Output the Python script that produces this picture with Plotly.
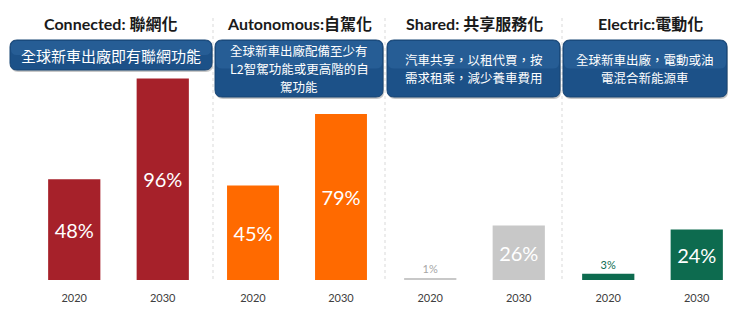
import plotly.graph_objects as go

# ---- data -------------------------------------------------------------
years = ["2020", "2030"]
themes = ["Connected: 聯網化", "Autonomous:自駕化", "Shared: 共享服務化", "Electric:電動化"]
notes = [
    ["全球新車出廠即有聯網功能"],
    ["全球新車出廠配備至少有", "L2智駕功能或更高階的自", "駕功能"],
    ["汽車共享，以租代買，按", "需求租乘，減少養車費用"],
    ["全球新車出廠，電動或油", "電混合新能源車"],
]
connected = [48, 96]
autonomous = [45, 79]
shared = [1, 26]
electric = [3, 24]
series = [connected, autonomous, shared, electric]

# ---- styling ----------------------------------------------------------
W, H = 750, 323
TOP, BOTTOM = 70, 280          # plot area in pixels
colors = ["#a6212a", "#ff6a00", "#c8c8c8", "#0d6b4f"]
small_text_colors = ["#a6212a", "#ff6a00", "#a6a6a6", "#0d6b4f"]
panels_px = [(30, 207), (209, 385), (386, 563), (564, 741)]
title_x_px = [110, 299, 474, 650]
boxes_px = [(10, 40, 212, 70), (215, 40, 383, 97), (387, 40, 560, 97), (563, 40, 727, 97)]
separators_px = [213, 385, 562]
LINE_STEP = 18.2
NOTE_SIZE = 12.5
CJK = "Noto Sans CJK TC"
LATIN = "Lato, Noto Sans CJK TC"


def px_x(x):
    return x / W


def px_y(y):
    return (BOTTOM - y) / (BOTTOM - TOP)


def rounded_path(x0, y0, x1, y1, r):
    """Rounded rectangle path in paper coordinates from pixel corners."""
    ax, bx = px_x(x0), px_x(x1)
    ay, by = px_y(y0), px_y(y1)   # ay is the top edge
    rx, ry = r / W, r / (BOTTOM - TOP)
    return (
        f"M {ax + rx},{ay} L {bx - rx},{ay} Q {bx},{ay} {bx},{ay - ry} "
        f"L {bx},{by + ry} Q {bx},{by} {bx - rx},{by} "
        f"L {ax + rx},{by} Q {ax},{by} {ax},{by + ry} "
        f"L {ax},{ay - ry} Q {ax},{ay} {ax + rx},{ay} Z"
    )


fig = go.Figure()
layout = dict(
    width=W, height=H,
    margin=dict(l=0, r=0, t=TOP, b=H - BOTTOM, pad=0),
    paper_bgcolor="white", plot_bgcolor="white",
    showlegend=False,
    yaxis=dict(range=[0, 100], visible=False, fixedrange=True),
    bargap=0.41,
)

for i, vals in enumerate(series):
    axis = "x" if i == 0 else f"x{i + 1}"
    key = "xaxis" if i == 0 else f"xaxis{i + 1}"
    positions = ["inside" if v >= 10 else "outside" for v in vals]
    font_sizes = [20 if v >= 10 else 11 for v in vals]
    font_colors = ["white" if v >= 10 else small_text_colors[i] for v in vals]
    fig.add_trace(go.Bar(
        x=years, y=vals, xaxis=axis, yaxis="y",
        marker=dict(color=colors[i], line=dict(width=0)),
        text=[f"{v}%" for v in vals],
        textposition=positions,
        insidetextanchor="middle",
        textfont=dict(family=LATIN, size=font_sizes, color=font_colors),
        cliponaxis=False,
        hoverinfo="skip",
    ))
    x0, x1 = panels_px[i]
    layout[key] = dict(
        domain=[px_x(x0), px_x(x1)], anchor="y",
        showline=False, showgrid=False, zeroline=False,
        ticks="outside", ticklen=8, tickcolor="rgba(0,0,0,0)",
        tickfont=dict(family=LATIN, size=11, color="#404040"),
        fixedrange=True,
    )

shapes = []
for sx in separators_px:
    shapes.append(dict(
        type="line", xref="paper", yref="paper", layer="below",
        x0=px_x(sx), x1=px_x(sx), y0=px_y(18), y1=px_y(282),
        line=dict(color="#d9d9d9", width=1, dash="dot"),
    ))

annotations = []
for i, (bx0, by0, bx1, by1) in enumerate(boxes_px):
    # drop shadow
    shapes.append(dict(
        type="path", xref="paper", yref="paper", layer="above",
        path=rounded_path(bx0 + 1, by0 + 2, bx1 + 1, by1 + 2, 7),
        fillcolor="rgba(0,0,0,0.22)", line=dict(width=0),
    ))
    # box body
    shapes.append(dict(
        type="path", xref="paper", yref="paper", layer="above",
        path=rounded_path(bx0, by0, bx1, by1, 7),
        fillcolor="#1c5188", line=dict(color="#174473", width=1),
    ))
    # lighter upper band for a soft gradient look
    shapes.append(dict(
        type="path", xref="paper", yref="paper", layer="above",
        path=rounded_path(bx0 + 1, by0 + 1, bx1 - 1, by0 + (by1 - by0) * 0.5, 6),
        fillcolor="rgba(90,150,210,0.18)", line=dict(width=0),
    ))
    # box text, one annotation per line
    lines = notes[i]
    mid = (by0 + by1) / 2
    first = mid - LINE_STEP * (len(lines) - 1) / 2
    for k, line in enumerate(lines):
        annotations.append(dict(
            xref="paper", yref="paper",
            x=px_x((bx0 + bx1) / 2), y=px_y(first + k * LINE_STEP),
            text=line, showarrow=False,
            xanchor="center", yanchor="middle", align="center",
            borderpad=0,
            font=dict(family=CJK, size=15 if i == 0 else NOTE_SIZE, color="white"),
        ))
    annotations.append(dict(
        xref="paper", yref="paper",
        x=px_x(title_x_px[i]), y=px_y(24),
        text=f"<b>{themes[i]}</b>", showarrow=False,
        xanchor="center", yanchor="middle",
        font=dict(family=LATIN, size=16, color="#1a1a1a"),
    ))

layout["shapes"] = shapes
layout["annotations"] = annotations
fig.update_layout(**layout)
fig.write_html("out.html")
